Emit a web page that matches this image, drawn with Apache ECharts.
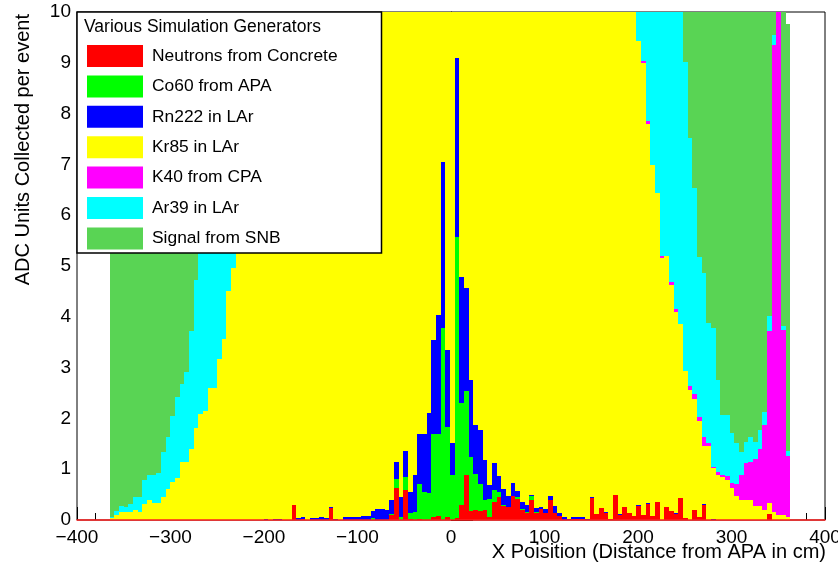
<!DOCTYPE html>
<html>
<head>
<meta charset="utf-8">
<script src="https://cdn.jsdelivr.net/npm/echarts@6/dist/echarts.min.js"></script>
<style>
  html, body { margin: 0; padding: 0; background: #fff; }
  #chart { width: 838px; height: 562px; }
</style>
</head>
<body>
<div id="chart"></div>
<script>
// bin layout (cm): 146 bins starting at -365
var xStart = -365
var binW = 4.985

var neutrons = [
  0,0,0,0,0,0,0,0,0,0,
  0,0,0,0,0,0,0,0,0,0,
  0,0,0,0,0,0,0,0,0,0,
  0,0,0,0,0,0,0,0,0,0.29,
  0,0.02,0,0,0,0,0,0.24,0,0,
  0,0,0,0,0,0,0,0,0,0,
  0.10,0.63,0,0.59,0.02,0,0.02,0,0,0.06,
  0.08,0,0.05,0,0.03,0.30,0.89,0.18,0.20,0.18,
  0.20,0.05,0.36,0.46,0.28,0.25,0.47,0.41,0.20,0.13,
  0.39,0.14,0.21,0.14,0.40,0.14,0.07,0,0,0.01,
  0.01,0.01,0,0.43,0.12,0.23,0.13,0.02,0.49,0.10,
  0.25,0.14,0.07,0.28,0.09,0.31,0.08,0.36,0,0.25,
  0.18,0.11,0.44,0.04,0,0.20,0.05,0.30,0,0,
  0,0,0,0,0,0,0,0,0,0,
  0,0.12,0,0,0,0
]
var co60 = [
  0,0,0,0,0,0,0,0,0,0,
  0,0,0,0,0,0,0,0,0,0,
  0,0,0,0,0,0,0,0,0,0,
  0,0,0,0,0,0,0,0,0,0,
  0,0,0,0,0,0,0,0,0,0,
  0,0,0,0,0,0,0.03,0,0,0,
  0.02,0.17,0.06,0.25,0.11,0.15,0.68,0.55,0.54,1.63,
  1.61,3.77,1.79,0.89,5.55,2.00,1.64,1.07,0.70,0.52,
  0.20,0.36,0.24,0.09,0.02,0,0,0.04,0.02,0.02,
  0.08,0.01,0,0,0,0,0,0,0,0,
  0,0,0,0,0,0,0,0,0,0,
  0,0,0,0,0,0,0,0,0,0,
  0,0,0,0,0,0,0,0,0,0,
  0,0,0,0,0,0,0,0,0,0,
  0,0,0,0,0,0
]
var rn222 = [
  0,0,0,0,0,0,0,0,0,0,
  0,0,0,0,0,0,0,0,0,0,
  0,0,0,0,0,0,0,0,0,0,
  0,0,0,0.02,0,0.02,0.02,0,0,0.01,
  0.03,0.03,0,0.03,0.03,0.06,0.04,0.02,0.01,0,
  0.05,0.05,0.05,0.05,0.07,0.07,0.15,0.22,0.22,0.20,
  0.27,0.35,0.40,0.52,0.42,0.74,0.99,1.14,1.56,1.85,
  2.35,3.28,1.51,0.62,3.51,2.48,2.03,1.51,0.97,1.07,
  0.78,0.28,0.53,0.32,0.32,0.22,0.26,0.12,0.13,0.15,
  0.03,0.09,0.04,0.07,0.07,0.13,0.06,0.05,0.02,0.04,
  0.04,0.04,0.02,0.03,0,0,0.02,0,0,0.02,
  0,0,0,0.02,0,0.03,0,0,0,0,
  0,0.02,0,0,0,0,0,0.02,0,0.02,
  0,0,0,0,0,0,0,0,0,0,
  0,0,0,0,0,0
]
var kr85 = [
  0.03,0.10,0.16,0.15,0.16,0.20,0.16,0.31,0.39,0.34,
  0.34,0.46,0.62,0.75,0.83,1.15,1.15,1.39,1.82,2.08,
  2.15,2.60,2.60,3.16,3.56,4.51,4.97,5.5,5.9,6.3,
  6.7,7.0,7.3,7.6,7.9,8.2,8.5,8.8,9.0,9.2,
  9.4,9.6,9.8,10.0,10.2,10.4,10.6,10.7,10.9,11.0,
  11.1,11.2,11.3,11.4,11.5,11.6,11.7,11.8,11.9,12.0,
  12.0,12.1,12.1,12.2,12.2,12.2,12.3,12.3,12.3,12.3,
  12.4,12.4,12.4,12.4,12.4,12.4,12.4,12.4,12.3,12.3,
  12.3,12.3,12.2,12.2,12.2,12.1,12.1,12.0,12.0,11.9,
  11.9,11.8,11.7,11.7,11.6,11.5,11.4,11.3,11.2,11.1,
  11.0,10.9,10.8,10.7,10.6,10.5,10.4,10.3,10.2,10.2,
  10.1,10.1,10.0,9.12,8.90,7.46,6.91,6.08,5.15,4.95,
  4.45,3.97,3.42,2.90,2.56,2.18,1.90,1.14,1.46,1.00,
  0.89,0.85,0.79,0.63,0.48,0.39,0.39,0.39,0.28,0.28,
  0.20,0.21,0.15,0.10,0.10,0.05
]
var k40 = [
  0,0,0,0,0,0,0,0,0,0,
  0,0,0,0,0,0,0,0,0,0,
  0,0,0,0,0,0,0,0,0,0,
  0,0,0,0,0,0,0,0,0,0,
  0,0,0,0,0,0,0,0,0,0,
  0,0,0,0,0,0,0,0,0,0,
  0,0,0,0,0,0,0,0,0,0,
  0,0,0,0,0,0,0,0,0,0,
  0,0,0,0,0,0,0,0,0,0,
  0,0,0,0,0,0,0,0,0,0,
  0,0,0,0,0,0,0,0,0,0,
  0,0,0,0,0.05,0.05,0,0,0.05,0,
  0.05,0.05,0,0,0.08,0.10,0.08,0.17,0.05,0.03,
  0.06,0.04,0.08,0.09,0.22,0.50,0.73,0.76,0.92,1.12,
  1.67,3.40,9.20,10.40,3.64,1.21
]
var ar39 = [
  0.02,0.08,0.12,0.10,0.15,0.25,0.29,0.48,0.50,0.55,
  0.59,0.88,1.01,1.30,1.60,1.52,1.77,2.34,2.90,3.5,
  3.6,3.4,3.5,3.2,3.1,2.6,2.4,2.2,2.0,1.8,
  1.6,1.5,1.4,1.3,1.2,1.1,1.0,0.9,0.8,0.8,
  0.7,0.7,0.6,0.6,0.5,0.5,0.5,0.4,0.4,0.4,
  0.3,0.3,0.3,0.3,0.2,0.2,0.2,0.2,0.2,0.2,
  0.2,0.2,0.2,0.2,0.2,0.2,0.2,0.2,0.2,0.2,
  0.2,0.2,0.2,0.2,0.2,0.2,0.2,0.2,0.2,0.2,
  0.2,0.2,0.2,0.2,0.2,0.2,0.2,0.3,0.3,0.3,
  0.3,0.3,0.3,0.4,0.4,0.4,0.4,0.5,0.5,0.5,
  0.6,0.6,0.7,0.7,0.8,0.8,0.9,1.0,1.0,1.1,
  1.2,1.3,1.4,1.5,2.0,3.2,4.0,4.6,5.9,5.9,
  6.5,7.0,7.4,6.08,4.87,4.05,3.15,3.24,2.37,2.72,
  1.81,1.18,1.20,1.00,0.81,0.44,0.42,0.49,0.34,0.37,
  0.26,0.29,0.20,0.10,0.08,0.09
]
var snb = [
  9.8,9.6,9.4,9.3,9.1,8.9,8.8,8.5,8.3,8.1,
  7.9,7.6,7.3,7.0,6.7,6.4,6.1,5.7,5.3,4.9,
  4.5,4.1,3.7,3.3,2.9,2.5,2.1,1.7,1.3,1.0,
  0.7,0.5,0.3,0.2,0.1,0,0,0,0,0,
  0,0,0,0,0,0,0,0,0,0,
  0,0,0,0,0,0,0,0,0,0,
  0,0,0,0,0,0,0,0,0,0,
  0,0,0,0,0,0,0,0,0,0,
  0,0,0,0,0,0,0,0,0,0,
  0,0,0,0,0,0,0,0,0,0,
  0,0,0,0,0,0,0,0,0,0,
  0,0,0,0.1,0.1,0.2,0.3,0.4,0.5,0.6,
  0.8,1.0,1.3,2.0,3.5,4.5,5.8,6.1,7.1,7.2,
  8.2,8.9,8.9,9.3,9.5,9.7,9.5,9.4,9.5,9.3,
  8.9,7.0,1.5,0.5,6.5,8.42
]

var names = ['Neutrons from Concrete', 'Co60 from APA', 'Rn222 in LAr', 'Kr85 in LAr', 'K40 from CPA', 'Ar39 in LAr', 'Signal from SNB']
var colors = ['#ff0000', '#00ff00', '#0000ff', '#ffff00', '#ff00ff', '#00ffff', '#59d454']
var values = [neutrons, co60, rn222, kr85, k40, ar39, snb]

// stack the histograms bin by bin (ROOT THStack order)
var base = neutrons.map(function () { return 0 })
var stacked = values.map(function (arr) {
  var items = []
  arr.forEach(function (v, i) {
    if (v > 0) {
      var x0 = xStart + i * binW
      items.push([x0, x0 + binW, base[i], base[i] + v])
      base[i] += v
    }
  })
  return items
})

function renderBin(params, api) {
  var p0 = api.coord([api.value(0), api.value(3)])
  var p1 = api.coord([api.value(1), api.value(2)])
  var cs = params.coordSys
  var shape = echarts.graphic.clipRectByRect({
    x: p0[0], y: p0[1], width: p1[0] - p0[0], height: p1[1] - p0[1]
  }, { x: cs.x, y: cs.y, width: cs.width, height: cs.height })
  if (!shape) return
  // snap to whole pixels so neighbouring bins leave no seams
  var x0 = Math.round(shape.x), x1 = Math.round(shape.x + shape.width)
  var y0 = Math.round(shape.y), y1 = Math.round(shape.y + shape.height)
  if (y1 <= y0 || x1 <= x0) return
  return {
    type: 'rect',
    shape: { x: x0, y: y0, width: x1 - x0, height: y1 - y0 },
    style: { fill: api.visual('color') }
  }
}

var font = 'Liberation Sans'
var chart = echarts.init(document.getElementById('chart'))
chart.setOption({
  animation: false,
  textStyle: { fontFamily: font },
  grid: {
    left: 77, top: 12, width: 748, height: 508,
    outerBoundsMode: 'none', containLabel: false,
    show: true, borderColor: '#000', borderWidth: 1
  },
  xAxis: [{
    type: 'value', min: -400, max: 400, interval: 100,
    axisLine: { show: false },
    axisTick: { inside: true, length: 13, lineStyle: { color: '#000' } },
    minorTick: { show: true, splitNumber: 5, length: 7, lineStyle: { color: '#000' } },
    splitLine: { show: false },
    axisLabel: {
      fontSize: 19, color: '#000', margin: 8, fontFamily: font,
      formatter: function (v) { return String(v).replace('-', '\u2212') }
    }
  }, {
    type: 'value', min: -400, max: 400, position: 'bottom', z: 5,
    axisLine: { show: true, onZero: false, lineStyle: { color: '#ff2020', width: 1.5 } },
    axisTick: { show: false }, axisLabel: { show: false }, splitLine: { show: false }
  }],
  yAxis: {
    type: 'value', min: 0, max: 10, interval: 1,
    axisLine: { show: true, lineStyle: { color: '#000' } },
    axisTick: { show: true, inside: true, length: 22, lineStyle: { color: '#000' } },
    minorTick: { show: true, splitNumber: 5, length: 12, lineStyle: { color: '#000' } },
    splitLine: { show: false },
    axisLabel: { fontSize: 19, color: '#000', margin: 6, fontFamily: font }
  },
  legend: {
    orient: 'vertical', left: 87, top: 45, z: 20, padding: 0,
    itemWidth: 56, itemHeight: 22, itemGap: 8.4,
    icon: 'rect', selectedMode: false,
    textStyle: { fontSize: 17.4, color: '#000', fontFamily: font, padding: [0, 0, 0, 4] },
    data: names
  },
  graphic: [
    {
      type: 'rect', z: 10,
      shape: { x: 77, y: 12, width: 304.5, height: 241 },
      style: { fill: '#fff', stroke: '#000', lineWidth: 1.5 }
    },
    {
      type: 'text', z: 21, x: 84, y: 27,
      style: {
        text: 'Various Simulation Generators', fontSize: 17.5, fontFamily: font, fill: '#000',
        verticalAlign: 'middle'
      }
    },
    {
      type: 'text', z: 21, x: 23, y: 14, rotation: Math.PI / 2,
      style: {
        text: 'ADC Units Collected per event', fontSize: 20, fontFamily: font, fill: '#000',
        align: 'right', verticalAlign: 'middle'
      }
    },
    {
      type: 'text', z: 21, x: 826, y: 542,
      style: {
        text: 'X Poisition (Distance from APA in cm)', fontSize: 20, fontFamily: font, fill: '#000',
        align: 'right', verticalAlign: 'top'
      }
    }
  ],
  series: stacked.map(function (items, k) {
    return {
      name: names[k],
      type: 'custom',
      renderItem: renderBin,
      color: colors[k],
      itemStyle: { color: colors[k] },
      encode: { x: [0, 1], y: [2, 3] },
      data: items
    }
  })
})
</script>
</body>
</html>
